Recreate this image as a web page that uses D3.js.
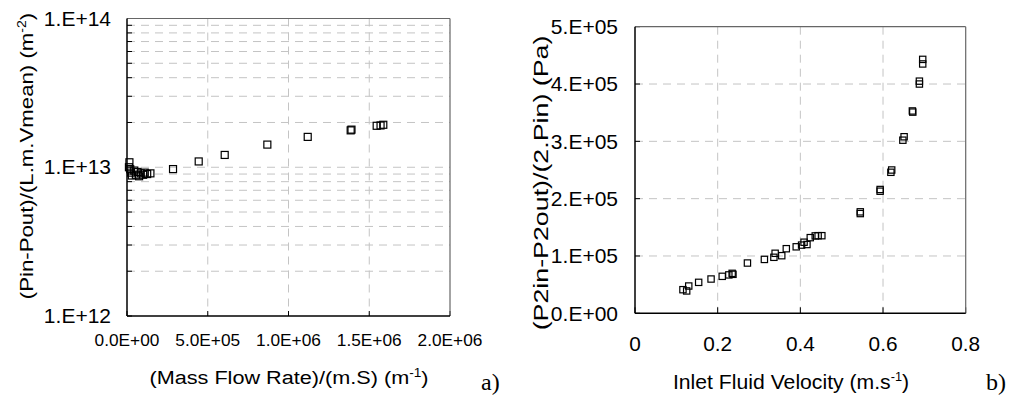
<!DOCTYPE html>
<html>
<head>
<meta charset="utf-8">
<script src="https://cdn.jsdelivr.net/npm/d3@7"></script>
<style>
  body { margin: 0; background: #fff; }
  svg text { font-family: "Liberation Sans", Arial, sans-serif; fill: #000; }
</style>
</head>
<body>
<svg id="chart" width="1018" height="408"></svg>
<script>
"use strict";

// panel a) mass flow rate vs normalised pressure drop
var flowX = [1.2e4, 1.5e4, 2.0e4, 2.5e4, 3.0e4, 4.5e4, 5.5e4, 6.5e4, 7.5e4, 8.5e4, 1.0e5, 1.1e5, 1.25e5, 1.45e5,
             2.85e5, 4.44e5, 6.05e5, 8.69e5, 1.119e6, 1.385e6, 1.39e6, 1.546e6, 1.57e6, 1.587e6];
var flowY = [1.0e13, 1.08e13, 9.7e12, 9.2e12, 8.8e12, 9.5e12, 8.9e12, 9.3e12, 8.7e12, 9.1e12, 8.9e12, 9.2e12, 9.0e12, 9.1e12,
             9.72e12, 1.094e13, 1.21e13, 1.42e13, 1.60e13, 1.77e13, 1.79e13, 1.90e13, 1.91e13, 1.93e13];
var flowTicks = [0, 5e5, 1e6, 1.5e6, 2e6];
var flowTickLabels = ["0.0E+00", "5.0E+05", "1.0E+06", "1.5E+06", "2.0E+06"];
var logTicks = [1e12, 1e13, 1e14];
var logTickLabels = ["1.E+12", "1.E+13", "1.E+14"];

// panel b) inlet velocity vs pressure term
var velX = [0.116, 0.125, 0.130, 0.154, 0.184, 0.211, 0.227, 0.235, 0.237, 0.272, 0.313, 0.336, 0.339, 0.355, 0.366,
            0.390, 0.403, 0.409, 0.416, 0.424, 0.436, 0.443, 0.452, 0.545, 0.545, 0.593, 0.593, 0.621, 0.619,
            0.651, 0.648, 0.671, 0.672, 0.688, 0.688, 0.696, 0.696];
var velY = [4.12e4, 3.9e4, 4.76e4, 5.4e4, 5.98e4, 6.45e4, 6.7e4, 6.97e4, 6.8e4, 8.77e4, 9.4e4, 9.77e4, 1.047e5, 1.005e5, 1.127e5,
            1.16e5, 1.19e5, 1.24e5, 1.2e5, 1.32e5, 1.35e5, 1.354e5, 1.354e5, 1.77e5, 1.74e5, 2.16e5, 2.13e5, 2.5e5, 2.46e5,
            3.08e5, 3.02e5, 3.53e5, 3.51e5, 4.05e5, 4.0e5, 4.43e5, 4.35e5];
var velTicks = [0, 0.2, 0.4, 0.6, 0.8];
var velTickLabels = ["0", "0.2", "0.4", "0.6", "0.8"];
var presTicks = [0, 1e5, 2e5, 3e5, 4e5, 5e5];
var presTickLabels = ["0.E+00", "1.E+05", "2.E+05", "3.E+05", "4.E+05", "5.E+05"];

var svg = d3.select("#chart");
var gridColor = "#c4c4c4";

// text placed at (x,y), slightly widened along its own direction (original glyphs are wider than Arial)
function label(parent, x, y, rot, anchor, size, stretch) {
    return parent.append("g")
        .attr("transform", "translate(" + x + "," + y + ") rotate(" + rot + ") scale(" + stretch + ",1)")
        .append("text")
        .attr("text-anchor", anchor)
        .style("font-size", size + "px");
}

function supText(t, main, sup, tail, size) {
    var s = Math.round(size * 0.62);
    t.append("tspan").text(main);
    t.append("tspan").attr("dy", -size * 0.38).style("font-size", s + "px").text(sup);
    t.append("tspan").attr("dy", size * 0.38).text(tail);
}

function frame(g, w, h) {
    g.append("line").attr("x1", 0).attr("x2", w).attr("y1", 0).attr("y2", 0)
        .attr("stroke", "#666").attr("stroke-width", 1.2);
    g.append("line").attr("x1", w).attr("x2", w).attr("y1", 0).attr("y2", h)
        .attr("stroke", "#666").attr("stroke-width", 1.2);
    g.append("line").attr("x1", 0).attr("x2", w).attr("y1", h).attr("y2", h)
        .attr("stroke", "#000").attr("stroke-width", 1.5);
    g.append("line").attr("x1", 0).attr("x2", 0).attr("y1", 0).attr("y2", h)
        .attr("stroke", "#000").attr("stroke-width", 1.5);
}

function squares(g, xs, ys, x, y, s) {
    g.selectAll("rect.pt")
        .data(xs.map(function(d, i){ return [d, ys[i]]; }))
        .enter()
        .append("rect")
        .attr("class", "pt")
        .attr("x", function(d){ return x(d[0]) - s / 2; })
        .attr("y", function(d){ return y(d[1]) - s / 2; })
        .attr("width", s)
        .attr("height", s)
        .attr("fill", "none")
        .attr("stroke", "#000")
        .attr("stroke-width", 1.2);
}

// ---------- panel a ----------
(function(){
    var left = 127, top = 18.5, w = 323, h = 297.5;
    var g = svg.append("g").attr("transform", "translate(" + left + "," + top + ")");
    var x = d3.scaleLinear().domain([0, 2e6]).range([0, w]);
    var y = d3.scaleLog().domain([1e12, 1e14]).range([h, 0]);

    var minor = [];
    [1e12, 1e13].forEach(function(b){ for (var k = 2; k <= 9; k++) minor.push(b * k); });

    g.selectAll("line.hg").data(minor.concat([1e13])).enter().append("line")
        .attr("x1", 0).attr("x2", w)
        .attr("y1", function(d){ return y(d); }).attr("y2", function(d){ return y(d); })
        .attr("stroke", gridColor).attr("stroke-dasharray", "8,6");
    g.selectAll("line.vg").data(flowTicks.slice(1, 4)).enter().append("line")
        .attr("y1", 0).attr("y2", h)
        .attr("x1", function(d){ return x(d); }).attr("x2", function(d){ return x(d); })
        .attr("stroke", gridColor).attr("stroke-dasharray", "8,6");

    // inward minor ticks on the log axis
    g.selectAll("line.mt").data(minor.concat(logTicks)).enter().append("line")
        .attr("x1", 0).attr("x2", 5)
        .attr("y1", function(d){ return y(d); }).attr("y2", function(d){ return y(d); })
        .attr("stroke", "#000");
    g.selectAll("line.xt").data(flowTicks).enter().append("line")
        .attr("y1", h).attr("y2", h - 5)
        .attr("x1", function(d){ return x(d); }).attr("x2", function(d){ return x(d); })
        .attr("stroke", "#000");

    frame(g, w, h);

    logTicks.forEach(function(d, i){
        label(g, -16, y(d), 0, "end", 20, 1.05).attr("dy", "0.36em").text(logTickLabels[i]);
    });
    flowTicks.forEach(function(d, i){
        label(g, x(d), h + 30, 0, "middle", 16, 1.08).text(flowTickLabels[i]);
    });

    squares(g, flowX, flowY, x, y, 7);

    supText(label(svg, 289, 384, 0, "middle", 19, 1.14), "(Mass Flow Rate)/(m.S) (m", "-1", ")", 19);
    supText(label(svg, 33, 156, -90, "middle", 19, 1.17), "(Pin-Pout)/(L.m.Vmean) (m", "-2", ")", 19);

    svg.append("text").attr("x", 481).attr("y", 390)
        .style("font-family", "'Liberation Serif', 'Times New Roman', serif").style("font-size", "24px").text("a)");
})();

// ---------- panel b ----------
(function(){
    var left = 635, top = 26.7, w = 330.7, h = 286.6;
    var g = svg.append("g").attr("transform", "translate(" + left + "," + top + ")");
    var x = d3.scaleLinear().domain([0, 0.8]).range([0, w]);
    var y = d3.scaleLinear().domain([0, 5e5]).range([h, 0]);

    g.selectAll("line.hg").data(presTicks.slice(1, 5)).enter().append("line")
        .attr("x1", 0).attr("x2", w)
        .attr("y1", function(d){ return y(d); }).attr("y2", function(d){ return y(d); })
        .attr("stroke", gridColor).attr("stroke-dasharray", "8,6");
    g.selectAll("line.vg").data(velTicks.slice(1, 4)).enter().append("line")
        .attr("y1", 0).attr("y2", h)
        .attr("x1", function(d){ return x(d); }).attr("x2", function(d){ return x(d); })
        .attr("stroke", gridColor).attr("stroke-dasharray", "8,6");

    g.selectAll("line.yt").data(presTicks).enter().append("line")
        .attr("x1", 0).attr("x2", 5)
        .attr("y1", function(d){ return y(d); }).attr("y2", function(d){ return y(d); })
        .attr("stroke", "#000");
    g.selectAll("line.xt").data(velTicks).enter().append("line")
        .attr("y1", h).attr("y2", h - 6)
        .attr("x1", function(d){ return x(d); }).attr("x2", function(d){ return x(d); })
        .attr("stroke", "#000");

    frame(g, w, h);

    presTicks.forEach(function(d, i){
        label(g, -17, y(d), 0, "end", 20, 1.05).attr("dy", "0.36em").text(presTickLabels[i]);
    });
    velTicks.forEach(function(d, i){
        label(g, x(d), h + 38, 0, "middle", 20, 1.04).text(velTickLabels[i]);
    });

    squares(g, velX, velY, x, y, 6.3);

    supText(label(svg, 791, 389, 0, "middle", 20, 1.06), "Inlet Fluid Velocity (m.s", "-1", ")", 20);
    label(svg, 548, 183, -90, "middle", 20, 1.34).text("(P2in-P2out)/(2.Pin) (Pa)");

    svg.append("text").attr("x", 986).attr("y", 390)
        .style("font-family", "'Liberation Serif', 'Times New Roman', serif").style("font-size", "24px").text("b)");
})();
</script>
</body>
</html>
